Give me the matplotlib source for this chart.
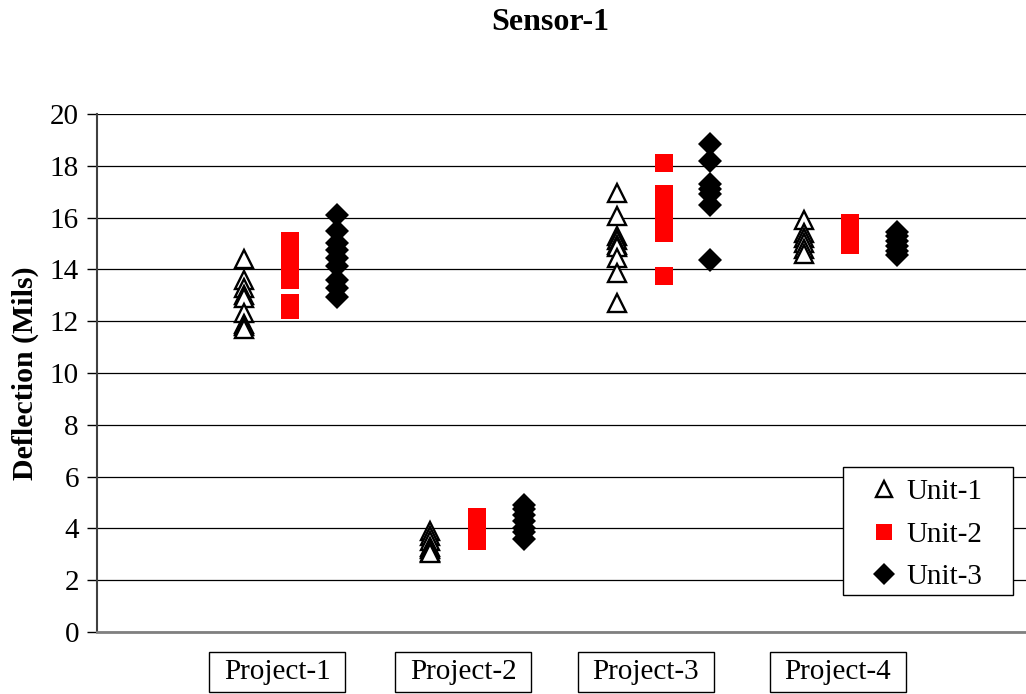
import numpy as np
import matplotlib
matplotlib.use("Agg")
import matplotlib.pyplot as plt
from matplotlib.patches import Rectangle

plt.rcParams['font.family'] = ['Liberation Serif', 'DejaVu Serif']

projects = ["Project-1", "Project-2", "Project-3", "Project-4"]
units = ["Unit-1", "Unit-2", "Unit-3"]

# deflection readings (mils) per project
unit1 = [
    [14.4, 13.6, 13.3, 13.0, 12.9, 12.3, 11.9, 11.8, 11.7],
    [3.9, 3.7, 3.5, 3.3, 3.2, 3.1, 3.05],
    [16.95, 16.05, 15.3, 15.15, 14.95, 14.85, 14.45, 13.85, 12.7],
    [15.9, 15.4, 15.2, 15.0, 14.8, 14.6],
]
unit2 = [
    [15.1, 14.8, 14.5, 14.2, 13.9, 13.6, 12.7, 12.45],
    [4.45, 4.2, 3.95, 3.7, 3.5],
    [18.1, 16.9, 16.6, 16.3, 16.0, 15.7, 15.4, 13.75],
    [15.8, 15.5, 15.2, 14.95],
]
unit3 = [
    [16.1, 15.5, 15.0, 14.75, 14.45, 14.15, 13.6, 13.3, 12.95],
    [4.9, 4.75, 4.5, 4.3, 4.0, 3.85, 3.6],
    [18.85, 18.2, 17.3, 17.1, 16.9, 16.5, 14.35],
    [15.45, 15.3, 15.1, 14.9, 14.7, 14.55],
]

centers = np.arange(1, 5)
offsets = [-0.25, 0.0, 0.25]
label_x = [0.93, 1.927, 2.903, 3.933]

W, H = 1026, 694
fig = plt.figure(figsize=(W / 100, H / 100), dpi=100)
ax = fig.add_axes([97/W, 1 - 632/H, 1 - 97/W, (632 - 114)/H])

styles = [
    dict(marker="^", ms=13, mfc="white", mec="black", mew=1.7, ls="none"),
    dict(marker="s", ms=13, mfc="red", mec="red", mew=0, ls="none"),
    dict(marker="D", ms=12, mfc="black", mec="black", mew=0, ls="none"),
]

for k, (data, st, lab) in enumerate(zip([unit1, unit2, unit3], styles, units)):
    for i, vals in enumerate(data):
        xs = np.full(len(vals), centers[i] + offsets[k])
        ax.plot(xs, vals, label=lab if i == 0 else None, zorder=3, **st)

ax.set_ylim(0, 20)
ax.set_xlim(-0.035, 4.94)
ax.set_yticks(range(0, 21, 2))
ax.yaxis.grid(True, color="black", lw=0.9)
ax.set_axisbelow(True)
ax.tick_params(axis="y", labelsize=21, length=7, width=1, pad=6, direction="out")
ax.set_xticks([])
for s in ["top", "right"]:
    ax.spines[s].set_visible(False)
ax.spines["left"].set_color("#404040")
ax.spines["left"].set_linewidth(1.5)
ax.spines["bottom"].set_color("#808080")
ax.spines["bottom"].set_linewidth(2)

# boxed category labels under the axis
trans = ax.get_xaxis_transform()
bw = 136 / 186.5
for x, name in zip(label_x, projects):
    ax.add_patch(Rectangle((x - bw / 2, -0.1158), bw, 0.0772, transform=trans,
                           fc="white", ec="black", lw=1, clip_on=False))
    ax.text(x, -0.0772, name, transform=trans, ha="center", va="center", fontsize=21)

fig.text(550/W, 1 - 22/H, "Sensor-1", ha="center", va="center", fontsize=23, fontweight="bold")
fig.text(25/W, 1 - 373/H, "Deflection (Mils)", ha="center", va="center", rotation=90,
         fontsize=21.5, fontweight="bold")

# legend frame drawn separately so the padding can match
ax.add_patch(Rectangle((843/W, 1 - 595/H), 170/W, 128/H, transform=fig.transFigure,
                       fc="white", ec="black", lw=1, zorder=4, clip_on=False))
leg = ax.legend(loc="upper left", bbox_to_anchor=(866/W, 1 - 479/H),
                bbox_transform=fig.transFigure, borderaxespad=0, borderpad=0, fontsize=21,
                frameon=False, labelspacing=0.55, handletextpad=0.2, handlelength=1.2,
                markerscale=0.92)
leg.set_zorder(5)

fig.savefig("out.png", dpi=100)
